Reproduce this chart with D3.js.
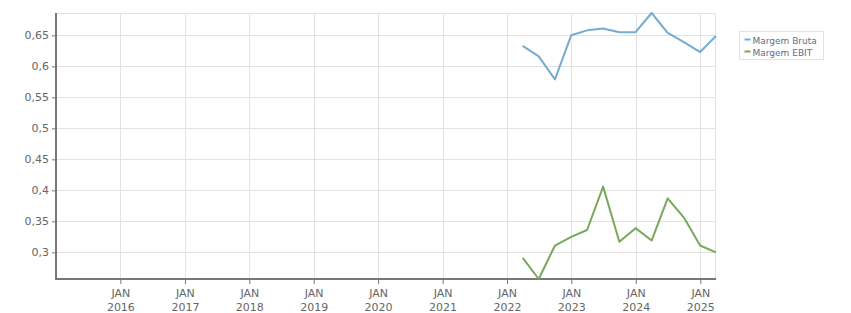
<!DOCTYPE html>
<html>
<head>
<meta charset="utf-8">
<script src="https://cdn.jsdelivr.net/npm/d3@7"></script>
<style>
	body { margin: 0; background: #fff; }
	svg { display: block; font-family: Verdana, "DejaVu Sans", sans-serif; }
</style>
</head>
<body>
<svg id="chart" width="851" height="313"></svg>
<script>
// quarter-end dates
var quarters = ["2022-03-31", "2022-06-30", "2022-09-30", "2022-12-31",
	"2023-03-31", "2023-06-30", "2023-09-30", "2023-12-31",
	"2024-03-31", "2024-06-30", "2024-09-30", "2024-12-31", "2025-03-31"];
var margemBruta = [0.633, 0.616, 0.579, 0.650, 0.658, 0.661, 0.655, 0.655, 0.686, 0.654, 0.639, 0.623, 0.649];
var margemEbit = [0.291, 0.257, 0.311, 0.325, 0.336, 0.406, 0.317, 0.339, 0.319, 0.387, 0.356, 0.311, 0.300];
var seriesNames = ["Margem Bruta", "Margem EBIT"];
var seriesColors = ["#74acd2", "#78a85a"];
var yTicks = [0.3, 0.35, 0.4, 0.45, 0.5, 0.55, 0.6, 0.65];
var xTickYears = [2016, 2017, 2018, 2019, 2020, 2021, 2022, 2023, 2024, 2025];

var parse = d3.timeParse("%Y-%m-%d");
var dates = quarters.map(parse);

var svg = d3.select("#chart");
var margin = {left: 56, top: 13, right: 135, bottom: 34};
var width = 851 - margin.left - margin.right;
var height = 313 - margin.top - margin.bottom;

var g = svg.append("g").attr("transform", "translate(" + margin.left + "," + margin.top + ")");

var x = d3.scaleTime()
	.domain([new Date(2015, 0, 1), dates[dates.length - 1]])
	.range([0, width]);
var allVals = margemBruta.concat(margemEbit);
var y = d3.scaleLinear()
	.domain(d3.extent(allVals))
	.range([height, 0]);

var fmt = function(d) { return String(d).replace(".", ","); };
var xTicks = xTickYears.map(function(yr) { return new Date(yr, 0, 1); });

// grid
g.append("g").selectAll("line.h").data(yTicks).enter().append("line")
	.attr("x1", 0).attr("x2", width)
	.attr("y1", function(d) { return Math.round(y(d)) + 0.5; })
	.attr("y2", function(d) { return Math.round(y(d)) + 0.5; })
	.attr("stroke", "#e2e2e2");
g.append("g").selectAll("line.v").data(xTicks).enter().append("line")
	.attr("y1", 0).attr("y2", height)
	.attr("x1", function(d) { return Math.round(x(d)) + 0.5; })
	.attr("x2", function(d) { return Math.round(x(d)) + 0.5; })
	.attr("stroke", "#e2e2e2");
// top and right border
g.append("path")
	.attr("d", "M0,0.5H" + (width - 0.5) + "V" + height)
	.attr("fill", "none").attr("stroke", "#e2e2e2");

// axes
var yAxis = g.append("g")
	.call(d3.axisLeft(y).tickValues(yTicks).tickFormat(fmt).tickSize(4).tickPadding(3));
var xAxis = g.append("g").attr("transform", "translate(0," + height + ")")
	.call(d3.axisBottom(x).tickValues(xTicks).tickFormat(function() { return ""; }).tickSize(5));

[yAxis, xAxis].forEach(function(a) {
	a.select(".domain").remove();
	a.selectAll(".tick line").attr("stroke", "#777");
	a.selectAll("text").attr("fill", "#666").style("font-size", "11px")
		.style("font-family", "Verdana, 'DejaVu Sans', sans-serif");
});

// two-line month/year labels
xAxis.selectAll(".tick text").each(function(d) {
	var t = d3.select(this);
	t.text(null).attr("y", 0).attr("dy", null);
	t.append("tspan").attr("x", 0).attr("y", 18).text("JAN");
	t.append("tspan").attr("x", 0).attr("y", 31.5).text(d.getFullYear());
});

g.append("line").attr("x1", -1).attr("x2", width).attr("y1", height).attr("y2", height)
	.attr("stroke", "#777").attr("stroke-width", 2);
g.append("line").attr("x1", 0).attr("x2", 0).attr("y1", 0).attr("y2", height + 1)
	.attr("stroke", "#777").attr("stroke-width", 2);

// lines
var series = [margemBruta, margemEbit];
var line = d3.line()
	.x(function(d, i) { return x(dates[i]); })
	.y(function(d) { return y(d); });
series.forEach(function(s, i) {
	g.append("path").datum(s)
		.attr("d", line)
		.attr("fill", "none")
		.attr("stroke", seriesColors[i])
		.attr("stroke-width", 2)
		.attr("stroke-linejoin", "round");
});

// legend
var legend = svg.append("g").attr("transform", "translate(739.5,31.5)");
legend.append("rect").attr("width", 84).attr("height", 28)
	.attr("fill", "#fff").attr("stroke", "#e2e2e2");
seriesNames.forEach(function(name, i) {
	var row = legend.append("g").attr("transform", "translate(0," + (i * 12) + ")");
	row.append("line").attr("x1", 5).attr("x2", 11).attr("y1", 8).attr("y2", 8)
		.attr("stroke", seriesColors[i]).attr("stroke-width", 2);
	row.append("text").attr("x", 13).attr("y", 12).text(name)
		.attr("fill", "#6a6a80").style("font-size", "9px");
});
</script>
</body>
</html>
